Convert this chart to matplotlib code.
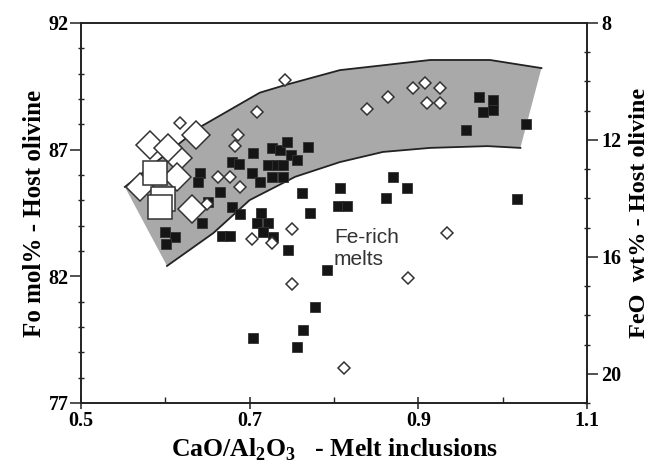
import matplotlib
matplotlib.use('Agg')
import matplotlib.pyplot as plt
from matplotlib.ticker import MultipleLocator
import numpy as np

# black squares: melt inclusions (CaO/Al2O3, Fo of host olivine)
sq_x = [0.600, 0.612, 0.601, 0.644, 0.667, 0.677, 0.679, 0.689, 0.709, 0.704,
        0.679, 0.687, 0.641, 0.639, 0.665, 0.703, 0.650, 0.727, 0.736, 0.744,
        0.769, 0.749, 0.756, 0.722, 0.733, 0.740, 0.727, 0.740, 0.712, 0.762,
        0.807, 0.805, 0.816, 0.870, 0.886, 0.862, 0.771, 0.713, 0.722, 0.716,
        0.728, 0.746, 0.792, 0.778, 0.763, 0.756, 0.704, 0.972, 0.989, 0.977,
        0.988, 0.956, 1.028, 1.017]
sq_fo = [83.75, 83.55, 83.28, 84.10, 83.59, 83.59, 84.74, 84.46, 84.10, 86.87,
         86.51, 86.43, 86.08, 85.72, 85.33, 86.08, 84.93, 87.07, 86.99, 87.30,
         87.10, 86.79, 86.59, 86.39, 86.39, 86.39, 85.92, 85.92, 85.72, 85.29,
         85.49, 84.78, 84.78, 85.92, 85.49, 85.09, 84.50, 84.50, 84.10, 83.75,
         83.55, 83.04, 82.25, 80.79, 79.88, 79.21, 79.56, 89.08, 88.96, 88.49,
         88.57, 87.78, 88.01, 85.05]

# small open diamonds
dia_x = [0.617, 0.686, 0.683, 0.709, 0.663, 0.677, 0.689, 0.649, 0.742, 0.839,
         0.864, 0.894, 0.908, 0.926, 0.910, 0.926, 0.703, 0.750, 0.727, 0.750,
         0.888, 0.812, 0.934]
dia_fo = [88.05, 87.58, 87.14, 88.49, 85.92, 85.92, 85.53, 84.85, 89.75, 88.60,
          89.08, 89.43, 89.63, 89.43, 88.84, 88.84, 83.47, 83.87, 83.31, 81.70,
          81.93, 78.38, 83.71]

# large open diamonds and squares
big_dia_x = [0.582, 0.636, 0.615, 0.603, 0.570, 0.614, 0.632]
big_dia_fo = [87.18, 87.58, 86.67, 87.07, 85.53, 85.92, 84.66]
big_sq_x = [0.588, 0.597, 0.594]
big_sq_fo = [86.08, 85.05, 84.74]

# grey field
band_up_x = [0.552, 0.641, 0.712, 0.742, 0.807, 0.914, 0.985, 1.046]
band_up_fo = [85.53, 87.89, 89.25, 89.55, 90.14, 90.54, 90.54, 90.22]
band_lo_x = [0.602, 0.657, 0.700, 0.754, 0.807, 0.858, 0.914, 0.982, 1.021]
band_lo_fo = [82.41, 83.71, 85.01, 85.93, 86.51, 86.91, 87.07, 87.14, 87.07]

fo_ticks = [77, 82, 87, 92]
cao_ticks = [0.5, 0.7, 0.9, 1.1]
feo_ticks = [8, 12, 16, 20]

plt.rcParams['font.family'] = 'Liberation Serif'
plt.rcParams['font.weight'] = 'bold'
plt.rcParams['axes.labelweight'] = 'bold'
plt.rcParams['mathtext.fontset'] = 'custom'
plt.rcParams['mathtext.rm'] = 'Liberation Serif:bold'
plt.rcParams['mathtext.bf'] = 'Liberation Serif:bold'

ink = '#222222'
fig = plt.figure(figsize=(6.58, 4.68), dpi=100)
ax = fig.add_axes([81/658, 1 - 403/468, 506/658, 380/468])

ax.fill(np.r_[band_up_x, band_lo_x[::-1]], np.r_[band_up_fo, band_lo_fo[::-1]],
        color='#a9a9a9', lw=0, zorder=1)
ax.plot(band_up_x, band_up_fo, color=ink, lw=1.3, zorder=2)
ax.plot(band_lo_x, band_lo_fo, color=ink, lw=1.3, zorder=2)

ax.plot(sq_x, sq_fo, ls='none', marker='s', ms=7.4, mfc='#151515',
        mec='#333333', mew=0.6, zorder=3)
ax.plot(dia_x, dia_fo, ls='none', marker='D', ms=6.6, mfc='white',
        mec='#333333', mew=1.1, zorder=4)
ax.plot(big_dia_x, big_dia_fo, ls='none', marker='D', ms=14.5, mfc='white',
        mec='#333333', mew=1.1, zorder=5)
ax.plot(big_sq_x, big_sq_fo, ls='none', marker='s', ms=17, mfc='white',
        mec='#333333', mew=1.1, zorder=6)

ax.text(0.800, 83.1, 'Fe-rich\nmelts', family='Liberation Sans', weight='normal',
        fontsize=15, color='#333333', va='center', ha='left', linespacing=1.15)

ax.set_xlim(0.5, 1.1)
ax.set_ylim(77, 92)
ax.set_xticks(cao_ticks)
ax.set_xticklabels([f'{v:.1f}' for v in cao_ticks])
ax.xaxis.set_minor_locator(MultipleLocator(0.1))
ax.set_yticks(fo_ticks)
ax.set_yticklabels([str(v) for v in fo_ticks])
ax.yaxis.set_minor_locator(MultipleLocator(1))
ax.tick_params(axis='x', which='major', direction='inout', length=8, width=1.1,
               color=ink, labelsize=14.5, pad=2)
ax.tick_params(axis='x', which='minor', direction='in', length=4, width=1.0, color=ink)
ax.tick_params(axis='y', which='major', direction='out', length=8, width=1.1,
               color=ink, labelsize=14.5, pad=1)
ax.tick_params(axis='y', which='minor', direction='inout', length=4, width=1.0, color=ink)
for s in ax.spines.values():
    s.set_color(ink)
    s.set_linewidth(1.2)

ax2 = ax.twinx()
ax2.set_ylim(21, 8)
ax2.set_yticks(feo_ticks)
ax2.set_yticklabels([str(v) for v in feo_ticks])
ax2.yaxis.set_minor_locator(MultipleLocator(1))
ax2.tick_params(axis='y', which='major', direction='out', length=8, width=1.1,
                color=ink, labelsize=14.5, pad=2)
ax2.tick_params(axis='y', which='minor', direction='inout', length=4, width=1.0, color=ink)
for s in ax2.spines.values():
    s.set_color(ink)
    s.set_linewidth(1.2)

for lbl in ax.get_xticklabels() + ax.get_yticklabels() + ax2.get_yticklabels():
    lbl.set_fontweight('bold')

ax.set_xlabel(r'CaO/Al$_\mathbf{2}$O$_\mathbf{3}$   - Melt inclusions',
              fontsize=18.5, fontweight='bold', labelpad=4)
ax.set_ylabel('Fo mol% - Host olivine', fontsize=18, fontweight='bold', labelpad=2)
ax2.set_ylabel('FeO  wt% - Host olivine', fontsize=17.5, fontweight='bold', labelpad=6)

fig.savefig('out.png', dpi=100)
